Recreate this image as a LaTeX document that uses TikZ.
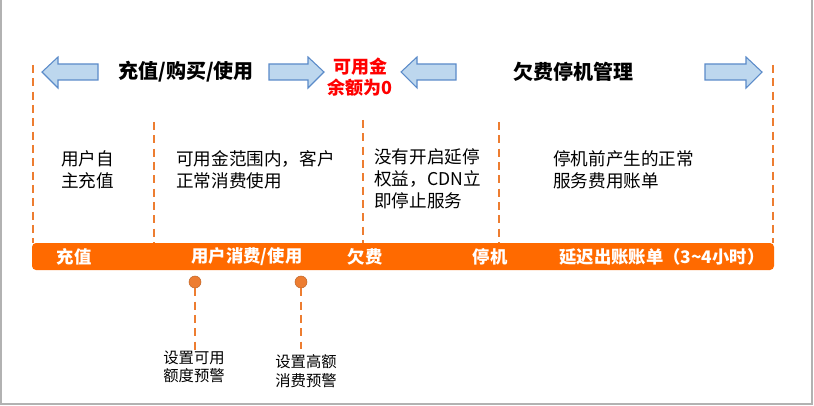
\documentclass[tikz,border=0pt]{standalone}
\usepackage{fontspec}
\newfontfamily\cjk{Noto Sans CJK SC}
\definecolor{org}{HTML}{FF6A00}
\definecolor{dorg}{HTML}{ED7D31}
\definecolor{ablue}{HTML}{BDD7EE}
\definecolor{aedge}{HTML}{5B8BC9}
\begin{document}
\begin{tikzpicture}[x=0.75pt,y=-0.75pt,
  arr/.style={draw=aedge,fill=ablue,line width=0.8pt},
  dl/.style={draw=dorg,dash pattern=on 6pt off 4pt,line width=1.4pt},
  title/.style={font=\cjk\fontsize{15}{17}\selectfont\bfseries},
  body/.style={font=\cjk\fontsize{13.2}{16.5}\selectfont,align=left,anchor=north west,inner sep=0pt},
  bar/.style={font=\cjk\fontsize{13}{15}\selectfont\bfseries,text=white},
  small/.style={font=\cjk\fontsize{11.5}{14}\selectfont,align=center}]
\useasboundingbox (0,0) rectangle (814,406);
\draw[gray!60,line width=1pt] (1,0) -- (1,404) -- (812,404) -- (812,0);
\foreach \a/\b in {42/98,401/456}
  \draw[arr] (\a,72) -- (\a+16,57) -- (\a+16,64) -- (\b,64) -- (\b,80) -- (\a+16,80) -- (\a+16,88) -- cycle;
\foreach \a/\b in {324/269,762/705}
  \draw[arr] (\a,72) -- (\a-16,57) -- (\a-16,64) -- (\b,64) -- (\b,80) -- (\a-16,80) -- (\a-16,88) -- cycle;
\node[title] (t1) at (186,72) {充值/购买/使用};
\node[title,text=red,align=center,font=\cjk\fontsize{13.5}{16}\selectfont\bfseries] (t2) at (360,77) {可用金\\余额为0};
\node[title] (t3) at (573,72) {欠费停机管理};
\coordinate (d1a) at (33,65); \coordinate (d1b) at (33,243);
\coordinate (d2a) at (154,122); \coordinate (d2b) at (154,243);
\coordinate (d3a) at (363,120); \coordinate (d3b) at (363,243);
\coordinate (d4a) at (499,122); \coordinate (d4b) at (499,243);
\coordinate (d5a) at (773,65); \coordinate (d5b) at (773,243);
\foreach \i in {1,...,5} \draw[dl] (d\i a) -- (d\i b);
\node[body] (b1) at (61,150) {用户自\\主充值};
\node[body] (b2) at (176,150) {可用金范围内，客户\\正常消费使用};
\node[body] (b3) at (374,148) {没有开启延停\\权益，CDN立\\即停止服务};
\node[body] (b4) at (553,150) {停机前产生的正常\\服务费用账单};
\fill[org,rounded corners=3pt] (32,243) rectangle (774,270);
\node[bar] (l1) at (74,257) {充值};
\node[bar] (l2) at (247,257) {用户消费/使用};
\node[bar] (l3) at (365,257) {欠费};
\node[bar] (l4) at (490,257) {停机};
\node[bar] (l5) at (662,257) {延迟出账账单（3\textasciitilde4小时）};
\node[circle,fill=dorg,draw=dorg!80!black,line width=0.4pt,minimum size=12*0.75pt,inner sep=0pt] (c1) at (195,282) {};
\node[circle,fill=dorg,draw=dorg!80!black,line width=0.4pt,minimum size=12*0.75pt,inner sep=0pt] (c2) at (301,282) {};
\coordinate (e1) at (195,350); \coordinate (e2) at (301,349);
\draw[dl] (c1) -- (e1); \draw[dl] (c2) -- (e2);
\node[small] (s1) at (194,367) {设置可用\\额度预警};
\node[small] (s2) at (306,371) {设置高额\\消费预警};
\end{tikzpicture}
\end{document}
